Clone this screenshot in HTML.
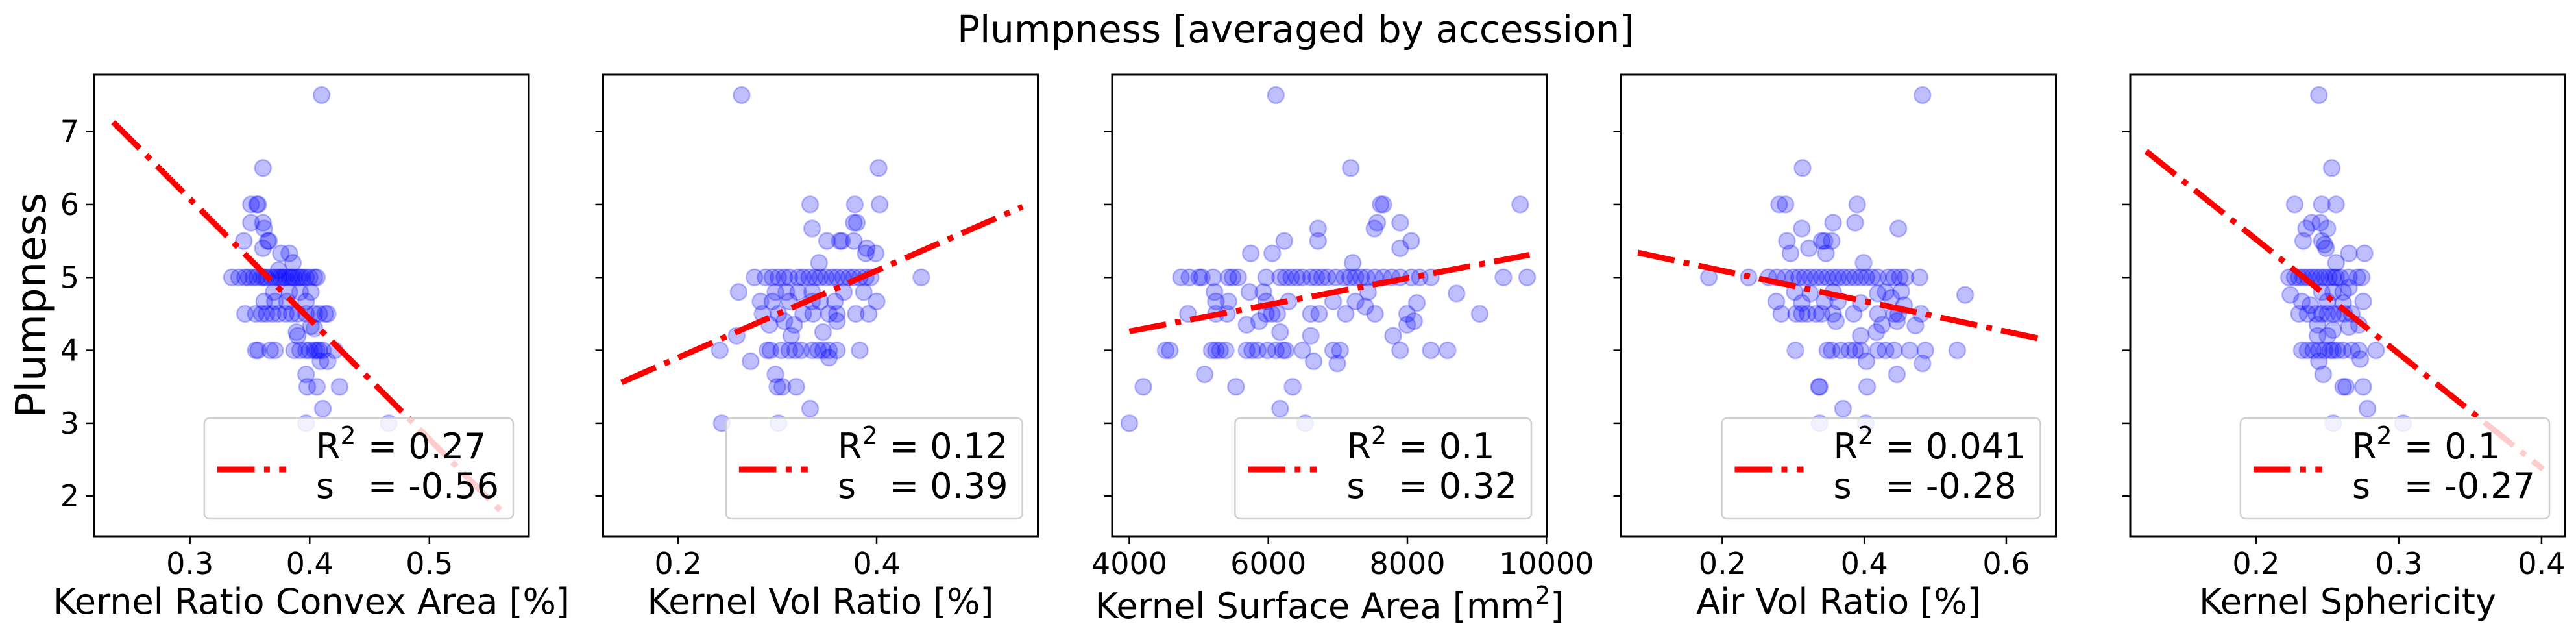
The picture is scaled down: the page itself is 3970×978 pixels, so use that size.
<!DOCTYPE html>
<html><head><meta charset="utf-8"><style>
html,body{margin:0;padding:0;background:#fff;width:3970px;height:978px;overflow:hidden}
svg text{font-family:"DejaVu Sans","Liberation Sans",sans-serif;fill:#000}
</style></head><body>
<svg id="fig" width="3970" height="978" viewBox="0 0 3970 978" xmlns="http://www.w3.org/2000/svg">
<rect width="3970" height="978" fill="#fff"/>
<text x="1997" y="65" font-size="58" text-anchor="middle">Plumpness [averaged by accession]</text>
<text x="0" y="0" font-size="64" text-anchor="middle" transform="translate(70,470) rotate(-90)">Plumpness</text>
</svg>
<script>
// ---- data ----
const yTicks=[2,3,4,5,6,7];
const yLim=[1.45,7.78];
const panelLabels=["Kernel Ratio Convex Area [%]","Kernel Vol Ratio [%]","Kernel Surface Area [mm²]","Air Vol Ratio [%]","Kernel Sphericity"];
const xLims=[[0.220,0.583],[0.1245,0.5624],[3753,10007],[0.0575,0.670],[0.1118,0.4164]];
const xTicks=[[0.3,0.4,0.5],[0.2,0.4],[4000,6000,8000,10000],[0.2,0.4,0.6],[0.2,0.3,0.4]];
const xTickLabels=[["0.3","0.4","0.5"],["0.2","0.4"],["4000","6000","8000","10000"],["0.2","0.4","0.6"],["0.2","0.3","0.4"]];
const r2Values=["0.27","0.12","0.1","0.041","0.1"];
const slopeValues=["-0.56","0.39","0.32","-0.28","-0.27"];
const fitX=[[0.236,0.562],[0.143,0.547],[4000,9757],[0.081,0.647],[0.123,0.401]];
const fitY=[[7.13,1.76],[3.56,5.97],[4.26,5.31],[5.34,4.16],[6.73,2.37]];

const p1x=[0.410,0.361,0.351,0.356,0.357,0.351,0.361,0.362,0.345,0.365,0.366,0.361,0.376,0.383,0.386,0.374,
0.335,0.341,0.346,0.349,0.353,0.356,0.360,0.362,0.364,0.368,0.371,0.374,0.376,0.378,0.380,0.383,0.385,0.387,0.390,0.392,0.394,0.397,0.400,0.404,0.406,
0.370,0.383,0.392,0.401,0.362,0.371,0.381,0.397,
0.346,0.355,0.360,0.364,0.369,0.374,0.380,0.385,0.390,0.397,0.404,0.408,0.413,0.415,
0.401,0.404,0.389,0.390,
0.355,0.357,0.367,0.371,0.387,0.392,0.397,0.400,0.404,0.406,0.408,0.411,0.421,
0.409,0.415,0.397,0.398,0.406,0.425,0.411,0.397,0.466];
const p1y=[7.5,6.5,6,6,6,5.75,5.75,5.67,5.5,5.5,5.5,5.4,5.33,5.33,5.2,5.1,
5,5,5,5,5,5,5,5,5,5,5,5,5,5,5,5,5,5,5,5,5,5,5,5,5,
4.8,4.8,4.8,4.8,4.67,4.67,4.67,4.67,
4.5,4.5,4.5,4.5,4.5,4.5,4.5,4.5,4.5,4.5,4.5,4.5,4.5,4.5,
4.33,4.3,4.25,4.2,
4,4,4,4,4,4,4,4,4,4,4,4,4,
3.85,3.85,3.67,3.5,3.5,3.5,3.2,3,3];

const p2x=[0.264,0.402,0.333,0.378,0.403,0.335,0.377,0.380,0.350,0.363,0.365,0.377,0.390,0.399,0.389,0.342,
0.277,0.288,0.295,0.301,0.307,0.312,0.321,0.326,0.332,0.338,0.343,0.349,0.355,0.360,0.366,0.372,0.377,0.383,0.389,0.394,0.445,
0.261,0.298,0.309,0.321,0.335,0.367,0.387,
0.283,0.295,0.312,0.335,0.343,0.358,0.400,
0.285,0.301,0.326,0.336,0.352,0.360,0.379,0.392,
0.292,0.307,0.317,0.360,0.259,0.314,0.346,
0.242,0.290,0.293,0.304,0.312,0.318,0.324,0.335,0.341,0.346,0.352,0.360,0.383,
0.273,0.352,0.298,0.300,0.305,0.319,0.333,0.244,0.301];
const p2y=[7.5,6.5,6,6,6,5.67,5.75,5.75,5.5,5.5,5.5,5.5,5.4,5.33,5.33,5.2,
5,5,5,5,5,5,5,5,5,5,5,5,5,5,5,5,5,5,5,5,5,
4.8,4.8,4.8,4.8,4.8,4.8,4.8,
4.67,4.67,4.67,4.67,4.67,4.67,4.67,
4.5,4.5,4.5,4.5,4.5,4.5,4.5,4.5,
4.35,4.4,4.35,4.4,4.2,4.2,4.25,
4,4,4,4,4,4,4,4,4,4,4,4,4,
3.85,3.9,3.67,3.5,3.5,3.5,3.2,3,3];

const p3x=[6108,7185,7615,7655,9622,7566,7526,7896,6715,6715,6229,8056,7896,5747,6056,7213,
4743,4863,5004,5044,5205,5426,5486,5566,5968,6169,6249,6329,6410,6490,6610,6691,6771,6851,6972,7092,7173,7253,7333,7414,7534,7655,7775,7896,8056,8177,8337,9381,9723,
5225,5727,5928,7434,8707,
5245,5426,5968,6289,6932,7253,8136,
4843,5245,5406,5968,6048,6128,6610,6731,7112,7534,7996,8096,9040,7394,
5687,5868,7996,6169,6610,7795,
4522,4582,5185,5245,5305,5386,5687,5767,5848,5988,6108,6209,6249,6490,6932,7032,7896,8337,8578,
6651,6992,5084,4201,5534,6349,6169,4000,6530];
const p3y=[7.5,6.5,6,6,6,5.75,5.67,5.75,5.67,5.5,5.5,5.5,5.4,5.33,5.33,5.2,
5,5,5,5,5,5,5,5,5,5,5,5,5,5,5,5,5,5,5,5,5,5,5,5,5,5,5,5,5,5,5,5,5,
4.8,4.8,4.8,4.8,4.78,
4.67,4.67,4.67,4.67,4.67,4.67,4.65,
4.5,4.5,4.5,4.5,4.5,4.5,4.5,4.5,4.5,4.5,4.5,4.4,4.5,4.6,
4.35,4.4,4.35,4.25,4.2,4.2,
4,4,4,4,4,4,4,4,4,4,4,4,4,4,4,4,4,4,4,
3.85,3.82,3.67,3.5,3.5,3.5,3.2,3,3];

const p4x=[0.482,0.313,0.280,0.289,0.390,0.356,0.387,0.448,0.312,0.291,0.340,0.344,0.354,0.296,0.322,0.346,0.399,
0.181,0.237,0.265,0.277,0.289,0.300,0.308,0.316,0.324,0.332,0.340,0.348,0.356,0.363,0.371,0.379,0.387,0.395,0.403,0.411,0.419,0.434,0.442,0.450,0.458,0.478,
0.302,0.324,0.356,0.419,0.430,0.452,0.542,
0.276,0.312,0.344,0.363,0.395,0.438,0.456,
0.283,0.304,0.312,0.320,0.332,0.340,0.356,0.385,0.419,0.442,0.448,0.480,
0.360,0.425,0.446,0.472,0.395,0.417,
0.303,0.348,0.354,0.367,0.379,0.387,0.395,0.419,0.430,0.442,0.464,0.486,0.531,
0.403,0.482,0.446,0.336,0.337,0.404,0.370,0.337,0.402];
const p4y=[7.5,6.5,6,6,6,5.75,5.75,5.67,5.67,5.5,5.5,5.5,5.5,5.33,5.4,5.33,5.2,
5,5,5,5,5,5,5,5,5,5,5,5,5,5,5,5,5,5,5,5,5,5,5,5,5,5,
4.8,4.78,4.8,4.78,4.8,4.81,4.76,
4.67,4.65,4.67,4.67,4.65,4.72,4.62,
4.5,4.5,4.5,4.5,4.5,4.5,4.5,4.5,4.5,4.5,4.5,4.5,
4.4,4.35,4.4,4.34,4.2,4.25,
4,4,4,4,4,4,4,4,4,4,4,4,4,
3.85,3.82,3.67,3.5,3.5,3.5,3.2,3,3];

const p5x=[0.244,0.253,0.227,0.246,0.256,0.235,0.239,0.245,0.250,0.233,0.246,0.248,0.249,0.265,0.276,0.256,
0.223,0.227,0.230,0.233,0.236,0.239,0.242,0.245,0.248,0.251,0.254,0.256,0.259,0.265,0.271,0.274,
0.224,0.246,0.254,0.261,0.265,
0.232,0.238,0.250,0.261,0.275,
0.230,0.236,0.242,0.246,0.250,0.254,0.258,0.262,0.267,
0.272,0.243,0.254,0.265,0.243,0.250,
0.232,0.236,0.240,0.244,0.248,0.252,0.254,0.257,0.261,0.267,0.272,0.284,
0.244,0.273,0.247,0.261,0.263,0.275,0.278,0.254,0.303];
const p5y=[7.5,6.5,6,6,6,5.67,5.75,5.75,5.67,5.5,5.5,5.45,5.4,5.33,5.33,5.2,
5,5,5,5,5,5,5,5,5,5,5,5,5,5,5,5,
4.76,4.8,4.8,4.8,4.86,
4.67,4.62,4.67,4.65,4.67,
4.5,4.5,4.5,4.5,4.5,4.5,4.5,4.5,4.5,
4.35,4.35,4.28,4.32,4.2,4.2,
4,4,4,4,4,4,4,4,4,4,4,4,
3.85,3.88,3.67,3.5,3.5,3.5,3.2,3,3];
const seriesX=[p1x,p2x,p3x,p4x,p5x];
const seriesY=[p1y,p2y,p3y,p4y,p5y];

// ---- layout ----
const NS="http://www.w3.org/2000/svg";
const svg=document.getElementById('fig');
const panelLeft0=145, panelStep=784.5, panelW=670, panelTop=115, panelBottom=826;
function mk(tag,attrs,parent){const e=document.createElementNS(NS,tag);for(const k in attrs)e.setAttribute(k,attrs[k]);(parent||svg).appendChild(e);return e;}
function yScale(v){return panelBottom-(v-yLim[0])/(yLim[1]-yLim[0])*(panelBottom-panelTop);}

for(let p=0;p<5;p++){
  const L=panelLeft0+p*panelStep, R=L+panelW;
  const xl=xLims[p];
  const xs=v=>L+(v-xl[0])/(xl[1]-xl[0])*panelW;
  const g=mk('g',{});
  
  
  const clipId='clip'+p;
  const cp=mk('clipPath',{id:clipId},g);
  mk('rect',{x:L,y:panelTop,width:panelW,height:panelBottom-panelTop},cp);
  // points
  const pg=mk('g',{'clip-path':'url(#'+clipId+')'},g);
  
  
  const X=seriesX[p],Y=seriesY[p];
  for(let i=0;i<X.length;i++){
    const c=mk('circle',{cx:xs(X[i]),cy:yScale(Y[i]),r:12.5,fill:'rgba(0,0,255,0.25)',stroke:'rgba(0,0,255,0.25)','stroke-width':2.5},pg);
    
    
  }
  // fit line
  const ln=mk('line',{x1:xs(fitX[p][0]),y1:yScale(fitY[p][0]),x2:xs(fitX[p][1]),y2:yScale(fitY[p][1]),stroke:'#ff0000','stroke-width':9,'stroke-dasharray':'57.6 14.4 9 14.4','clip-path':'url(#'+clipId+')'},g);
  
  
  // frame
  const fr=mk('rect',{x:L,y:panelTop,width:panelW,height:panelBottom-panelTop,fill:'none',stroke:'#000','stroke-width':3},g);
  
  
  // y ticks
  yTicks.forEach(t=>{
    const y=yScale(t);
    const tk=mk('line',{x1:L-12,x2:L,y1:y,y2:y,stroke:'#000','stroke-width':2.5},g);
    
    
    if(p===0){
      const tl=mk('text',{x:L-23,y:y+16,'font-size':46,'text-anchor':'end'},g);
      tl.textContent=String(t);
      
      
    }
  });
  // x ticks
  xTicks[p].forEach((t,i)=>{
    const x=xs(t);
    const tk=mk('line',{x1:x,x2:x,y1:panelBottom,y2:panelBottom+12,stroke:'#000','stroke-width':2.5},g);
    
    
    const tl=mk('text',{x:x,y:884,'font-size':46,'text-anchor':'middle'},g);
    tl.textContent=xTickLabels[p][i];
    
    
  });
  // x label
  const xlab=mk('text',{x:L+panelW/2,y:p===2?952:945,'font-size':54,'text-anchor':'middle'},g);
  if(p===2){
    xlab.appendChild(document.createTextNode('Kernel Surface Area [mm'));
    const sup=mk('tspan',{'font-size':38,dy:-22},xlab); sup.textContent='2';
    const rest=mk('tspan',{dy:22},xlab); rest.textContent=']';
  } else xlab.textContent=panelLabels[p];
  
  
  // legend
  const lg=mk('g',{},g);
  
  
  const box=mk('rect',{y:644,height:155,rx:8,ry:8,fill:'rgba(255,255,255,0.8)',stroke:'#d0d0d0','stroke-width':2.5},lg);
  const t1=mk('text',{y:706,'font-size':54},lg);
  const tR=mk('tspan',{},t1); tR.textContent='R';
  const tS=mk('tspan',{'font-size':38,dy:-22},t1); tS.textContent='2';
  const t1b=mk('text',{y:706,'font-size':54},lg); t1b.textContent='= '+r2Values[p];
  const t2=mk('text',{y:767,'font-size':54},lg); t2.textContent='s';
  const t2b=mk('text',{y:767,'font-size':54},lg); t2b.textContent='= '+slopeValues[p];
  
  
  
  
  const valW=Math.max(t1b.getComputedTextLength(),t2b.getComputedTextLength());
  const boxW=172+80+valW+22;
  const bx=R-24-boxW;
  box.setAttribute('x',bx); box.setAttribute('width',boxW);
  t1.setAttribute('x',bx+172); t2.setAttribute('x',bx+172);
  t1b.setAttribute('x',bx+172+80); t2b.setAttribute('x',bx+172+80);
  const ll=mk('line',{x1:bx+20,x2:bx+126,y1:723,y2:723,stroke:'#ff0000','stroke-width':9,'stroke-dasharray':'57.6 14.4 9 14.4'},lg);
  
  
}
</script>
</body></html>
